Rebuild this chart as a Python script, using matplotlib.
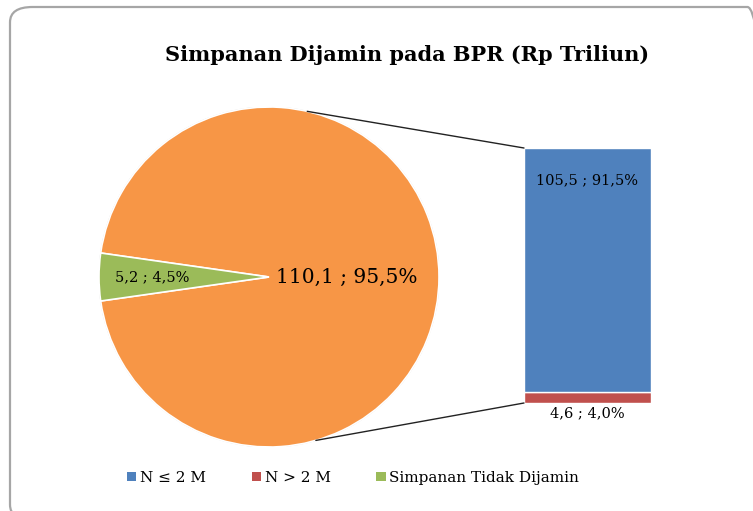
import matplotlib.pyplot as plt
from matplotlib.patches import FancyBboxPatch, Patch, ConnectionPatch, Circle
import numpy as np

plt.rcParams['font.family'] = ['DejaVu Serif']

# data
title = "Simpanan Dijamin pada BPR (Rp Triliun)"
pie_names = ["Simpanan Dijamin", "Simpanan Tidak Dijamin"]
pie_values = [110.1, 5.2]
pie_labels = ["110,1 ; 95,5%", "5,2 ; 4,5%"]
bar_names = ["N > 2 M", "N \u2264 2 M"]
bar_values = [4.6, 105.5]
bar_labels = ["4,6 ; 4,0%", "105,5 ; 91,5%"]

c_orange = "#F79646"
c_blue = "#4F81BD"
c_red = "#C0504D"
c_green = "#9BBB59"

W, H = 753, 511
fig = plt.figure(figsize=(W / 100, H / 100), dpi=100)

# rounded chart border
border = FancyBboxPatch((10 / W, 1 - 520 / H), 760 / W, 513 / H,
                        boxstyle="round,pad=0,rounding_size=0.03",
                        transform=fig.transFigure, facecolor="none",
                        edgecolor="#a6a6a6", linewidth=1.6, zorder=-5)
fig.add_artist(border)

fig.text(407 / W, 1 - 55 / H, title, ha="center", va="center",
         fontsize=15, fontweight="bold")

# pie
cx, cy, r = 269, 277, 170
ax_pie = fig.add_axes([(cx - r) / W, (H - cy - r) / H, 2 * r / W, 2 * r / H])
start = 180 - 360 * (pie_values[0] + pie_values[1] / 2) / sum(pie_values)
wedges, _ = ax_pie.pie(pie_values, colors=[c_orange, c_green], startangle=start,
                       radius=1, wedgeprops=dict(edgecolor="white", linewidth=1.2))
ax_pie.add_patch(Circle((0, 0), 1.0, facecolor="none", edgecolor="#d0d0d0",
                        linewidth=0.8, zorder=0.5))
ax_pie.set_xlim(-1, 1)
ax_pie.set_ylim(-1, 1)
ax_pie.axis("off")
dists = [0.43, 0.69]
sizes = [14.5, 10.5]
for w, lab, d, fs in zip(wedges, pie_labels, dists, sizes):
    mid = np.deg2rad((w.theta1 + w.theta2) / 2)
    ax_pie.text(d * np.cos(mid) + (0.03 if d < 0.5 else 0), d * np.sin(mid), lab,
                ha="center", va="center", fontsize=fs)

# bar
ax_bar = fig.add_axes([524 / W, (H - 403) / H, 127 / W, 255 / H])
bottom = 0
for v, c in zip(bar_values, [c_red, c_blue]):
    ax_bar.bar(0, v, bottom=bottom, width=1, color=c, edgecolor="white", linewidth=1)
    bottom += v
ax_bar.set_xlim(-0.5, 0.5)
ax_bar.set_ylim(0, sum(bar_values))
ax_bar.axis("off")
ax_bar.text(0, -1.5, bar_labels[0], ha="center", va="top", fontsize=10.5)
ax_bar.text(0, sum(bar_values) - 14, bar_labels[1], ha="center", va="center", fontsize=10.5)

# connector lines
for ang, yb in [(77, sum(bar_values)), (-74, 0)]:
    a = np.deg2rad(ang)
    con = ConnectionPatch(xyA=(np.cos(a), np.sin(a)), coordsA=ax_pie.transData,
                          xyB=(-0.5, yb), coordsB=ax_bar.transData,
                          color="#222222", linewidth=1)
    fig.add_artist(con)

handles = [Patch(facecolor=c_blue), Patch(facecolor=c_red), Patch(facecolor=c_green)]
fig.legend(handles, [bar_names[1], bar_names[0], pie_names[1]], loc="center",
           bbox_to_anchor=(353 / W, 1 - 478 / H), ncol=3, frameon=False,
           fontsize=11, handlelength=0.6, handleheight=0.6, handletextpad=0.25,
           columnspacing=3.0)

fig.savefig("out.png", dpi=100)
